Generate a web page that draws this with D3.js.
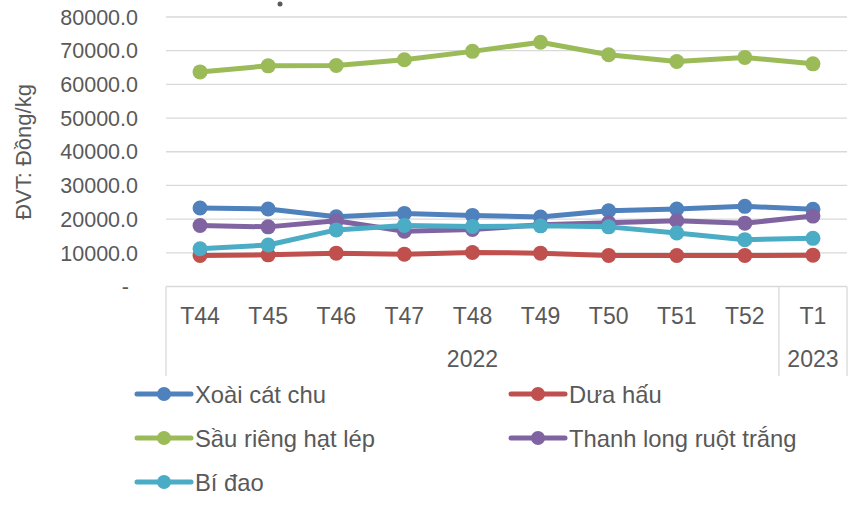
<!DOCTYPE html>
<html>
<head>
<meta charset="utf-8">
<script src="https://cdn.jsdelivr.net/npm/d3@7"></script>
<style>
    html, body { margin: 0; padding: 0; background: #fff; }
    text { font-family: 'Liberation Sans', Arial, sans-serif; fill: #595959; }
</style>
</head>
<body>
<div class="chart-container"></div>
<script>
/* global d3 */
var weeks = ['T44', 'T45', 'T46', 'T47', 'T48', 'T49', 'T50', 'T51', 'T52', 'T1'];
var years = [
    { label: '2022', from: 0, to: 8 },
    { label: '2023', from: 9, to: 9 }
];
var yTicks = [0, 10000, 20000, 30000, 40000, 50000, 60000, 70000, 80000];

var xoaiCatChu = [23300, 23000, 20700, 21700, 21100, 20600, 22500, 23000, 23800, 22900];
var duaHau = [9200, 9400, 9900, 9600, 10100, 9900, 9200, 9200, 9200, 9300];
var sauRieng = [63700, 65500, 65600, 67300, 69800, 72500, 68800, 66800, 68000, 66100];
var thanhLong = [18100, 17700, 19500, 16400, 16900, 18300, 18900, 19500, 18800, 20900];
var biDao = [11200, 12300, 16800, 18100, 17800, 18000, 17700, 15900, 13900, 14300];

var seriesNames = ['Xoài cát chu', 'Dưa hấu', 'Sầu riêng hạt lép', 'Thanh long ruột trắng', 'Bí đao'];
var seriesColors = ['#4f81bd', '#c0504d', '#9bbb59', '#8064a2', '#4bacc6'];

(function() {
    'use strict';

    var width = 862,
        height = 517,
        left = 166,
        right = 847,
        top = 17,
        bottom = 286.5,
        boxBottom = 376;

    var series = [xoaiCatChu, duaHau, sauRieng, thanhLong, biDao].map(function(values, i) {
        return { name: seriesNames[i], color: seriesColors[i], values: values };
    });

    var svg = d3.select('.chart-container')
        .append('svg')
        .attr('width', width)
        .attr('height', height);

    var x = d3.scaleBand().domain(weeks).range([left, right]);
    var y = d3.scaleLinear().domain([0, 80000]).range([bottom, top]);

    // gridlines
    svg.append('g')
        .selectAll('line')
        .data(yTicks.filter(function(d) { return d > 0; }))
        .enter()
        .append('line')
        .attr('x1', left)
        .attr('x2', right)
        .attr('y1', function(d) { return y(d); })
        .attr('y2', function(d) { return y(d); })
        .attr('stroke', '#d9d9d9')
        .attr('stroke-width', 1.3);

    // y labels
    svg.append('g')
        .selectAll('text')
        .data(yTicks)
        .enter()
        .append('text')
        .attr('x', function(d) { return d === 0 ? 129 : 138; })
        .attr('y', function(d) { return y(d); })
        .attr('dy', '0.36em')
        .attr('text-anchor', 'end')
        .style('font-size', '21.5px')
        .text(function(d) { return d === 0 ? '-' : d3.format('.1f')(d); });

    svg.append('text')
        .attr('transform', 'translate(31,152) rotate(-90)')
        .attr('text-anchor', 'middle')
        .style('font-size', '22px')
        .text('ĐVT: Đồng/kg');

    // stray mark from a cut-off title
    svg.append('circle')
        .attr('cx', 280)
        .attr('cy', 4)
        .attr('r', 2.5)
        .attr('fill', '#595959');

    // category axis box
    var axis = svg.append('g');
    axis.append('line')
        .attr('x1', left).attr('x2', right)
        .attr('y1', bottom).attr('y2', bottom)
        .attr('stroke', '#d9d9d9').attr('stroke-width', 1.3);

    var edges = [left, right].concat(years.slice(1).map(function(d) { return x(weeks[d.from]); }));
    axis.selectAll('line.edge')
        .data(edges)
        .enter()
        .append('line')
        .attr('class', 'edge')
        .attr('x1', function(d) { return d; })
        .attr('x2', function(d) { return d; })
        .attr('y1', bottom)
        .attr('y2', boxBottom)
        .attr('stroke', '#d9d9d9')
        .attr('stroke-width', 1.3);

    axis.selectAll('text.week')
        .data(weeks)
        .enter()
        .append('text')
        .attr('class', 'week')
        .attr('x', function(d) { return x(d) + x.bandwidth() / 2; })
        .attr('y', 324)
        .attr('text-anchor', 'middle')
        .style('font-size', '23px')
        .text(function(d) { return d; });

    axis.selectAll('text.year')
        .data(years)
        .enter()
        .append('text')
        .attr('class', 'year')
        .attr('x', function(d) { return (x(weeks[d.from]) + x(weeks[d.to]) + x.bandwidth()) / 2; })
        .attr('y', 367)
        .attr('text-anchor', 'middle')
        .style('font-size', '23px')
        .text(function(d) { return d.label; });

    // lines + markers
    var line = d3.line()
        .x(function(d, i) { return x(weeks[i]) + x.bandwidth() / 2; })
        .y(function(d) { return y(d); });

    var groups = svg.append('g')
        .selectAll('g')
        .data(series)
        .enter()
        .append('g');

    groups.append('path')
        .attr('d', function(d) { return line(d.values); })
        .attr('fill', 'none')
        .attr('stroke', function(d) { return d.color; })
        .attr('stroke-width', 5)
        .attr('stroke-linejoin', 'round');

    groups.selectAll('circle')
        .data(function(d) { return d.values.map(function(v) { return { v: v, color: d.color }; }); })
        .enter()
        .append('circle')
        .attr('cx', function(d, i) { return x(weeks[i]) + x.bandwidth() / 2; })
        .attr('cy', function(d) { return y(d.v); })
        .attr('r', 7.5)
        .attr('fill', function(d) { return d.color; });

    // legend
    var legend = svg.append('g')
        .selectAll('g')
        .data(series)
        .enter()
        .append('g')
        .attr('transform', function(d, i) {
            return 'translate(' + (i % 2 === 0 ? 137 : 511) + ',' + (394 + Math.floor(i / 2) * 44) + ')';
        });

    legend.append('line')
        .attr('x1', 0).attr('x2', 54)
        .attr('y1', 0).attr('y2', 0)
        .attr('stroke', function(d) { return d.color; })
        .attr('stroke-width', 5)
        .attr('stroke-linecap', 'round');

    legend.append('circle')
        .attr('cx', 27)
        .attr('cy', 0)
        .attr('r', 7)
        .attr('fill', function(d) { return d.color; });

    legend.append('text')
        .attr('x', 58)
        .attr('y', 0)
        .attr('dy', '0.36em')
        .style('font-size', '23.8px')
        .text(function(d) { return d.name; });
})();
</script>
</body>
</html>
